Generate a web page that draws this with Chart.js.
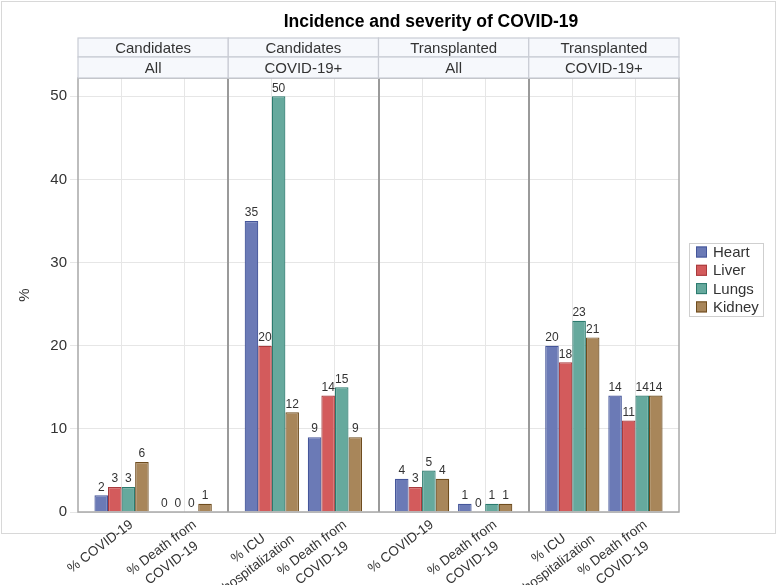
<!DOCTYPE html>
<html>
<head>
<meta charset="utf-8">
<script src="https://cdn.jsdelivr.net/npm/chart.js@4.4.1/dist/chart.umd.min.js"></script>
<style>
  html, body { margin: 0; padding: 0; background: #fff; }
  #wrap { width: 777px; height: 585px; position: relative; }
</style>
</head>
<body>
<div id="wrap"><canvas id="c" width="777" height="585"></canvas></div>
<script>
// ---- Data ----
const chartTitle = 'Incidence and severity of COVID-19';
const panelGroups = ['Candidates', 'Candidates', 'Transplanted', 'Transplanted'];
const panelSubsets = ['All', 'COVID-19+', 'All', 'COVID-19+'];
const categoryLabels = [
  ['% COVID-19'], ['% Death from', 'COVID-19'],
  ['% ICU', 'hospitalization'], ['% Death from', 'COVID-19'],
  ['% COVID-19'], ['% Death from', 'COVID-19'],
  ['% ICU', 'hospitalization'], ['% Death from', 'COVID-19']
];
const seriesNames = ['Heart', 'Liver', 'Lungs', 'Kidney'];
const heartValues  = [2, 0, 35, 9, 4, 1, 20, 14];
const liverValues  = [3, 0, 20, 14, 3, 0, 18, 11];
const lungsValues  = [3, 0, 50, 15, 5, 1, 23, 14];
const kidneyValues = [6, 1, 12, 9, 4, 1, 21, 14];
const yTicks = [0, 10, 20, 30, 40, 50];
const yAxisTitle = '%';

// ---- Styles ----
const fills   = ['#6b7ab6', '#d35b5c', '#66a99d', '#a8865a'];
const borders = ['#45569a', '#a83a3c', '#2b7a6e', '#6e4c1e'];
const FONT = "'Liberation Sans', Arial, sans-serif";
const XFONT_SIZE = 13.5;

// position of each category in panel units (computed, not data)
const nPanels = panelGroups.length;
const catX = categoryLabels.map((_, i) => Math.floor(i / 2) + (i % 2 === 0 ? 0.29 : 0.71));

// center-align lines of a multi-line rotated label (Chart.js right-aligns them)
const mctx = document.createElement('canvas').getContext('2d');
mctx.font = XFONT_SIZE + 'px ' + FONT;
function centeredLines(lines) {
  if (lines.length < 2) return lines;
  const widths = lines.map(l => mctx.measureText(l).width);
  const maxW = Math.max(...widths);
  const sp = mctx.measureText(' ').width;
  return lines.map((l, i) => l + ' '.repeat(Math.max(0, Math.round((maxW - widths[i]) / 2 / sp))));
}

const allSeries = [heartValues, liverValues, lungsValues, kidneyValues];
const datasets = allSeries.map((vals, s) => ({
  label: seriesNames[s],
  data: vals.map((v, i) => ({ x: catX[i], y: v })),
  backgroundColor: fills[s],
  borderColor: borders[s],
  borderWidth: 1.2,
  borderSkipped: 'bottom',
  categoryPercentage: 0.86,
  barPercentage: 1.0
}));

const decor = {
  id: 'decor',
  beforeDraw(chart) {
    const ctx = chart.ctx;
    ctx.save();
    ctx.fillStyle = '#fff';
    ctx.fillRect(0, 0, chart.width, chart.height);
    ctx.strokeStyle = '#d8d8d8';
    ctx.lineWidth = 1;
    ctx.strokeRect(1.5, 1.5, 774, 532);
    ctx.restore();
  },
  afterDatasetsDraw(chart) {
    const ctx = chart.ctx;
    const ca = chart.chartArea;
    const xs = chart.scales.x;
    ctx.save();
    // value labels
    ctx.font = '12px ' + FONT;
    ctx.fillStyle = '#333';
    ctx.textAlign = 'center';
    ctx.textBaseline = 'bottom';
    chart.data.datasets.forEach((ds, di) => {
      const meta = chart.getDatasetMeta(di);
      meta.data.forEach((el, i) => {
        ctx.fillText(String(ds.data[i].y), el.x, el.y - 2);
      });
    });
    // panel separators
    ctx.strokeStyle = '#9a9a9a';
    ctx.lineWidth = 2;
    for (let p = 1; p < nPanels; p++) {
      const x = Math.round(xs.getPixelForValue(p));
      ctx.beginPath();
      ctx.moveTo(x, ca.top);
      ctx.lineTo(x, ca.bottom);
      ctx.stroke();
    }
    // plot frame
    ctx.strokeStyle = '#a8a8a8';
    ctx.lineWidth = 1.5;
    ctx.strokeRect(ca.left, ca.top, ca.right - ca.left, ca.bottom - ca.top);
    // header cells
    const rows = [[38, 57, panelGroups], [57, 78, panelSubsets]];
    ctx.font = '15px ' + FONT;
    ctx.textAlign = 'center';
    ctx.textBaseline = 'middle';
    rows.forEach(([y0, y1, texts]) => {
      for (let p = 0; p < nPanels; p++) {
        const x0 = xs.getPixelForValue(p), x1 = xs.getPixelForValue(p + 1);
        ctx.fillStyle = '#f6f8fc';
        ctx.fillRect(x0, y0, x1 - x0, y1 - y0);
        ctx.strokeStyle = '#c9ccd4';
        ctx.lineWidth = 1.2;
        ctx.strokeRect(x0, y0, x1 - x0, y1 - y0);
        ctx.fillStyle = '#333';
        ctx.fillText(texts[p], (x0 + x1) / 2, (y0 + y1) / 2 + 1);
      }
    });
    // title
    ctx.font = 'bold 17.5px ' + FONT;
    ctx.fillStyle = '#000';
    ctx.fillText(chartTitle, 431, 22);
    // legend
    const lx = 689, ly = 243, lw = 74, lh = 73;
    ctx.strokeStyle = '#cfcfcf';
    ctx.lineWidth = 1;
    ctx.strokeRect(lx + 0.5, ly + 0.5, lw, lh);
    ctx.font = '15px ' + FONT;
    ctx.textAlign = 'left';
    chart.data.datasets.forEach((ds, i) => {
      const cy = 252 + i * 18.3;
      ctx.fillStyle = ds.backgroundColor;
      ctx.fillRect(lx + 7, cy - 5.5, 11, 11);
      ctx.strokeStyle = ds.borderColor;
      ctx.lineWidth = 1;
      ctx.strokeRect(lx + 7.5, cy - 5, 10, 10);
      ctx.fillStyle = '#333';
      ctx.fillText(ds.label, lx + 24, cy + 1);
    });
    ctx.restore();
  }
};

new Chart(document.getElementById('c'), {
  type: 'bar',
  data: { datasets },
  plugins: [decor],
  options: {
    responsive: false,
    animation: false,
    events: [],
    layout: { padding: { top: 78, right: 98, left: 0, bottom: 0 } },
    plugins: { legend: { display: false }, title: { display: false }, tooltip: { enabled: false } },
    scales: {
      x: {
        type: 'linear',
        min: 0,
        max: nPanels,
        offset: false,
        afterBuildTicks(scale) { scale.ticks = catX.map(v => ({ value: v })); },
        afterFit(scale) { scale.height = 73; },
        border: { display: false },
        grid: { color: '#e6e6e6', drawTicks: false, lineWidth: 1, offset: false },
        ticks: {
          autoSkip: false,
          minRotation: 37,
          maxRotation: 37,
          padding: 4,
          labelOffset: 10,
          color: '#333',
          font: { family: FONT, size: XFONT_SIZE, lineHeight: 1.35 },
          callback(value, index) { return centeredLines(categoryLabels[index]); }
        }
      },
      y: {
        min: 0,
        max: 52.2,
        afterBuildTicks(scale) { scale.ticks = yTicks.map(v => ({ value: v })); },
        afterFit(scale) { scale.width = 78; },
        border: { display: false },
        grid: { color: '#e6e6e6', tickLength: 8, lineWidth: 1 },
        ticks: { padding: 3, color: '#333', font: { family: FONT, size: 15 } },
        title: {
          display: true,
          text: yAxisTitle,
          color: '#333',
          font: { family: FONT, size: 15 },
          padding: { top: 16, bottom: 0 }
        }
      }
    }
  }
});
</script>
</body>
</html>
